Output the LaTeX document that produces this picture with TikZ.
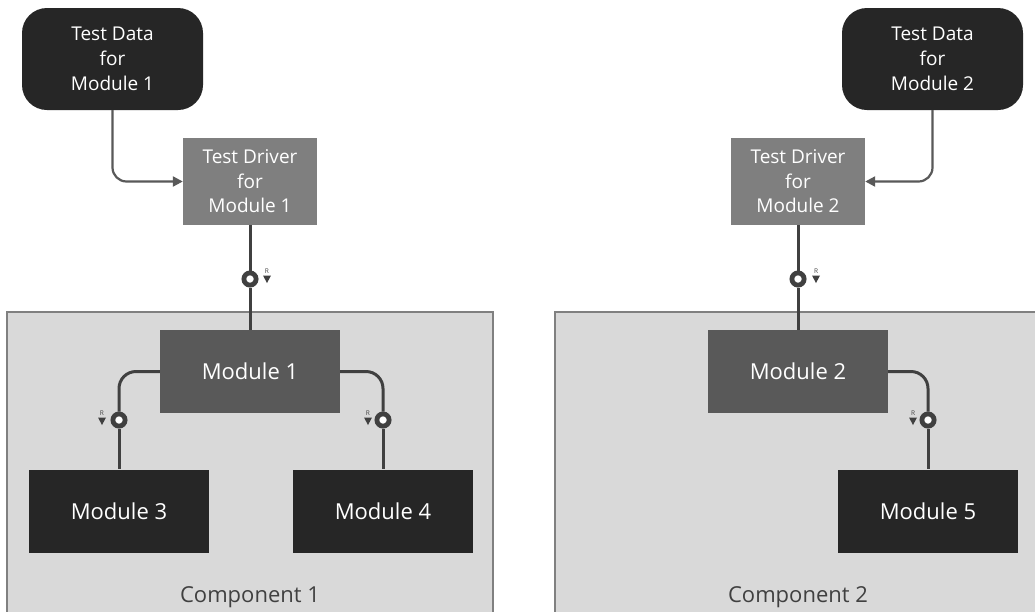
\documentclass[tikz,border=0pt]{standalone}
\usepackage{fontspec}
\setmainfont{Open Sans}
\usetikzlibrary{arrows.meta}
\definecolor{dark}{HTML}{262626}
\definecolor{mid}{HTML}{595959}
\definecolor{light}{HTML}{7F7F7F}
\definecolor{compbg}{HTML}{D9D9D9}
\definecolor{compline}{HTML}{808080}
\definecolor{linec}{HTML}{404040}
\begin{document}
\begin{tikzpicture}[x=1pt,y=-1pt,
  base/.style={inner sep=0pt, align=center, text=white},
  databox/.style={base, fill=dark, rounded corners=25pt, minimum width=181pt, minimum height=102pt, font=\fontsize{19}{25}\selectfont},
  driverbox/.style={base, fill=light, minimum width=134pt, minimum height=87pt, font=\fontsize{19}{24.5}\selectfont},
  modbox/.style={base, minimum width=180pt, minimum height=83pt, font=\fontsize{22}{26}\selectfont},
  comp/.style={draw=compline, fill=compbg, line width=1.5pt},
  complabel/.style={inner sep=0pt, text=linec, font=\fontsize{22}{26}\selectfont},
  lolli/.style={circle, draw=linec, fill=white, line width=4.8pt, minimum size=12.2pt, inner sep=0pt},
  conn/.style={draw=linec, line width=3pt},
  dataconn/.style={draw=mid, line width=2.2pt, rounded corners=14pt, -{Triangle[length=10pt,width=10pt]}},
  rlab/.style={inner sep=0pt, text=linec, font=\fontsize{6.5}{7}\selectfont},
]
\useasboundingbox (0,0) rectangle (1035,611);
\fill[white] (0,0) rectangle (1035,611);

% components
\draw[comp] (7,312) rectangle (493,640);
\draw[comp] (555,312) rectangle (1045,640);
\node[complabel] (c1) at (250,597) {Component 1};
\node[complabel] (c2) at (798,597) {Component 2};

% nodes
\node[databox] (data1) at (112.5,59) {Test Data\\for\\Module 1};
\node[databox] (data2) at (932.5,59) {Test Data\\for\\Module 2};
\node[driverbox] (td1) at (250,181.5) {Test Driver\\for\\Module 1};
\node[driverbox] (td2) at (798,181.5) {Test Driver\\for\\Module 2};
\node[modbox, fill=mid] (m1) at (250,371.5) {Module 1};
\node[modbox, fill=mid] (m2) at (798,371.5) {Module 2};
\node[modbox, fill=dark] (m3) at (119,511) {Module 3};
\node[modbox, fill=dark] (m4) at (383,511) {Module 4};
\node[modbox, fill=dark] (m5) at (928,511) {Module 5};

% data connectors
\draw[dataconn] (data1.south) |- (td1.west);
\draw[dataconn] (data2.south) |- (td2.east);

% interface lollipops
\node[lolli] (l1) at (250,279) {};
\node[lolli] (l2) at (798,279) {};
\node[lolli] (l3) at (119,420) {};
\node[lolli] (l4) at (383,420) {};
\node[lolli] (l5) at (928,420) {};

% connectors
\draw[conn] (td1.south) -- (l1.north);
\draw[conn] (l1.south) -- (m1.north);
\draw[conn] (td2.south) -- (l2.north);
\draw[conn] (l2.south) -- (m2.north);
\draw[conn, rounded corners=17pt] (m1.west) -| (l3.north);
\draw[conn] (l3.south) -- (m3.north);
\draw[conn, rounded corners=17pt] (m1.east) -| (l4.north);
\draw[conn] (l4.south) -- (m4.north);
\draw[conn, rounded corners=17pt] (m2.east) -| (l5.north);
\draw[conn] (l5.south) -- (m5.north);

% R marks
\foreach \n/\x/\y in {r1/267/271, r2/816/271, r3/102/413, r4/368/413, r5/913/413}{
  \node[rlab] (\n) at (\x,\y) {R};
  \fill[linec] ([xshift=-4pt,yshift=-2pt]\n.south) -- ++(8,0) -- ++(-4,7.5) -- cycle;
}
\end{tikzpicture}
\end{document}
